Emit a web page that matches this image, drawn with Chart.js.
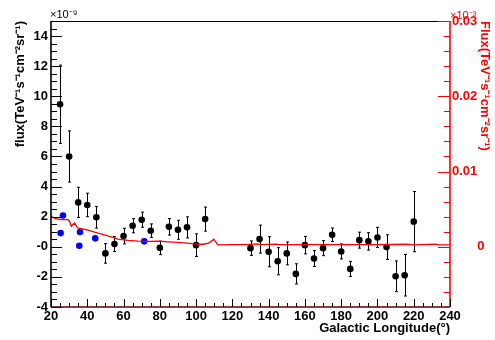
<!DOCTYPE html>
<html>
<head>
<meta charset="utf-8">
<script src="https://cdn.jsdelivr.net/npm/chart.js@4.4.0/dist/chart.umd.min.js"></script>
<style>
  body { margin: 0; background: #fff; }
</style>
</head>
<body>
<canvas id="chart" width="495" height="340"></canvas>
<script>
// measured flux (x1e-9), with symmetric errors
const lonBlack = [25, 30, 35, 40, 45, 50, 55, 60, 65, 70, 75, 80, 85, 90, 95, 100, 105,
  130, 135, 140, 145, 150, 155, 160, 165, 170, 175, 180, 185, 190, 195, 200, 205, 210, 215, 220];
const fluxBlack = [9.47, 6.0, 2.95, 2.78, 1.96, -0.44, 0.18, 0.71, 1.4, 1.8, 1.07, -0.07, 1.33, 1.13, 1.29, 0.11, 1.84,
  -0.09, 0.51, -0.33, -0.96, -0.44, -1.8, 0.11, -0.78, -0.09, 0.8, -0.31, -1.47, 0.44, 0.36, 0.62, -0.02, -1.96, -1.89, 1.67];
const errBlack = [2.6, 1.7, 1.0, 0.78, 0.72, 0.65, 0.5, 0.52, 0.47, 0.5, 0.45, 0.45, 0.55, 0.63, 0.7, 0.75, 0.8,
  0.48, 0.93, 1.0, 0.9, 0.76, 0.67, 0.58, 0.53, 0.5, 0.45, 0.5, 0.5, 0.53, 0.58, 0.67, 0.82, 1.02, 1.38, 2.0];

// blue points (x1e-9)
const lonBlue = [25.3, 26.6, 35.6, 36, 44.4, 71.4];
const fluxBlue = [0.91, 2.08, 0.07, 0.98, 0.56, 0.36];

// red curve, right axis (x1e-3)
const lonModel = [20, 22, 25.7, 29.4, 30.2, 31.2, 33, 34.7, 40.4, 45.9, 51.4, 56.9, 62.4, 68, 74.6, 79, 85, 90, 95,
  100, 104, 107, 109.8, 112, 120, 128, 133.4, 136, 144, 146, 160, 180, 200, 216, 220, 231.7, 234, 240];
const fluxModel = [0.00404, 0.00378, 0.0036, 0.0036, 0.0034, 0.00272, 0.00316, 0.0025, 0.00222, 0.00182, 0.00146,
  0.00102, 0.00084, 0.00076, 0.00072, 0.00074, 0.00066, 0.00058, 0.00048, 0.00036, 0.00034, 0.0005, 0.00102,
  0.00026, 0.00028, 0.00028, 0.00038, 0.00028, 0.00036, 0.00028, 0.00028, 0.00028, 0.00028, 0.00034, 0.00026,
  0.00034, 0.00026, 0.00026];

const xTicks = [20, 40, 60, 80, 100, 120, 140, 160, 180, 200, 220, 240];
const leftTicks = [-4, -2, 0, 2, 4, 6, 8, 10, 12, 14];
const rightTicks = [0, 0.01, 0.02, 0.03];

const FONT = '"Liberation Sans", Arial, sans-serif';
Chart.defaults.font.family = FONT;

const axisDeco = {
  id: 'axisDeco',
  beforeDatasetsDraw(chart) {
    const { ctx, chartArea: a, scales: { x, y } } = chart;
    ctx.save();
    ctx.beginPath();
    ctx.rect(a.left, a.top, a.right - a.left, a.bottom - a.top);
    ctx.clip();
    ctx.strokeStyle = '#000';
    ctx.lineWidth = 1;
    lonBlack.forEach((lon, i) => {
      const px = Math.round(x.getPixelForValue(lon)) + 0.5;
      const y1 = y.getPixelForValue(fluxBlack[i] + errBlack[i]);
      const y2 = y.getPixelForValue(fluxBlack[i] - errBlack[i]);
      ctx.beginPath();
      ctx.moveTo(px, y1); ctx.lineTo(px, y2);
      ctx.moveTo(px - 1.5, y1); ctx.lineTo(px + 1.5, y1);
      ctx.moveTo(px - 1.5, y2); ctx.lineTo(px + 1.5, y2);
      ctx.stroke();
    });
    ctx.restore();
  },
  afterDatasetsDraw(chart) {
    const { ctx, chartArea: a, scales: { x, y, y2 } } = chart;
    ctx.save();
    // frame
    ctx.strokeStyle = '#000';
    ctx.lineWidth = 1;
    ctx.beginPath();
    ctx.moveTo(a.left, a.top + 0.5); ctx.lineTo(a.right, a.top + 0.5);
    ctx.stroke();
    ctx.lineWidth = 1.6;
    ctx.beginPath();
    ctx.moveTo(a.left, a.top); ctx.lineTo(a.left, a.bottom);
    ctx.stroke();
    ctx.strokeStyle = '#5a0000';
    ctx.beginPath();
    ctx.moveTo(a.left, a.bottom); ctx.lineTo(a.right, a.bottom);
    ctx.stroke();
    ctx.strokeStyle = '#ff0000';
    ctx.beginPath();
    ctx.moveTo(a.right, a.top); ctx.lineTo(a.right, a.bottom);
    ctx.stroke();
    // ticks
    ctx.lineWidth = 1;
    ctx.strokeStyle = '#000';
    ctx.beginPath();
    for (let k = 0; k <= 44; k++) {
      const v = 20 + k * 5;
      const px = Math.round(x.getPixelForValue(v)) + 0.5;
      const len = k % 4 === 0 ? 8 : 4;
      ctx.moveTo(px, a.bottom); ctx.lineTo(px, a.bottom - len);
    }
    for (let k = 0; k <= 38; k++) {
      const v = -4 + k * 0.5;
      const py = Math.round(y.getPixelForValue(v)) + 0.5;
      const len = k % 4 === 0 ? 11 : 6;
      ctx.moveTo(a.left, py); ctx.lineTo(a.left + len, py);
    }
    ctx.stroke();
    ctx.strokeStyle = '#ff0000';
    ctx.beginPath();
    for (let k = 0; k <= 19; k++) {
      const v = -0.008 + k * 0.002;
      const py = Math.round(y2.getPixelForValue(v)) + 0.5;
      const len = (k - 4) % 5 === 0 ? 12 : 6;
      ctx.moveTo(a.right, py); ctx.lineTo(a.right - len, py);
    }
    ctx.stroke();
    // exponents
    ctx.font = '11px ' + FONT;
    ctx.textBaseline = 'alphabetic';
    ctx.textAlign = 'left';
    ctx.fillStyle = '#000';
    ctx.fillText('×10⁻⁹', a.left - 1, 18);
    ctx.fillStyle = '#ff0000';
    ctx.fillText('×10⁻³', a.right, 19);
    ctx.restore();
  }
};

new Chart(document.getElementById('chart'), {
  type: 'scatter',
  data: {
    datasets: [
      {
        data: lonModel.map((v, i) => ({ x: v, y: fluxModel[i] })),
        yAxisID: 'y2',
        showLine: true,
        borderColor: '#ff0000',
        borderWidth: 1.3,
        pointRadius: 0,
        tension: 0
      },
      {
        data: lonBlue.map((v, i) => ({ x: v, y: fluxBlue[i] })),
        yAxisID: 'y',
        backgroundColor: '#0000ff',
        borderWidth: 0,
        pointRadius: 3.3
      },
      {
        data: lonBlack.map((v, i) => ({ x: v, y: fluxBlack[i] })),
        yAxisID: 'y',
        backgroundColor: '#000',
        borderWidth: 0,
        pointRadius: 3.3
      }
    ]
  },
  options: {
    responsive: false,
    animation: false,
    layout: { padding: { top: 21, left: 0, right: 0, bottom: 0 } },
    plugins: { legend: { display: false }, tooltip: { enabled: false } },
    scales: {
      x: {
        type: 'linear',
        min: 20, max: 240,
        afterBuildTicks: s => { s.ticks = xTicks.map(v => ({ value: v })); },
        afterFit: s => { s.height = 33; },
        grid: { display: false, drawTicks: false },
        border: { display: false },
        ticks: { color: '#000', padding: 2, maxRotation: 0, autoSkip: false, font: { size: 13, weight: 'bold' } },
        title: {
          display: true, text: 'Galactic Longitude(°)', align: 'end', color: '#000',
          padding: { top: 0, bottom: 4 }, font: { size: 13, weight: 'bold' }
        }
      },
      y: {
        position: 'left',
        min: -4, max: 15,
        afterBuildTicks: s => { s.ticks = leftTicks.map(v => ({ value: v })); },
        afterFit: s => { s.width = 51; },
        grid: { display: false, drawTicks: false },
        border: { display: false },
        ticks: {
          color: '#000', padding: 3, autoSkip: false, font: { size: 13, weight: 'bold' },
          callback: v => v === 0 ? '-0' : String(v)
        },
        title: {
          display: true, text: 'flux(TeV⁻¹s⁻¹cm⁻²sr⁻¹)', align: 'end', color: '#000',
          padding: { top: 13, bottom: 0 }, font: { size: 13, weight: 'bold' }
        }
      },
      y2: {
        position: 'right',
        min: -0.008, max: 0.03,
        afterBuildTicks: s => { s.ticks = rightTicks.map(v => ({ value: v })); },
        afterFit: s => { s.width = 45; },
        grid: { display: false, drawTicks: false },
        border: { display: false },
        ticks: {
          color: '#ff0000', padding: 2, autoSkip: false, font: { size: 13, weight: 'bold' },
          callback: v => v === 0 ? '       0' : v.toFixed(2)
        },
        title: {
          display: true, text: 'Flux(TeV⁻¹s⁻¹cm⁻²sr⁻¹)', align: 'end', color: '#ff0000',
          padding: { top: 3, bottom: 0 }, font: { size: 13, weight: 'bold' }
        }
      }
    }
  },
  plugins: [axisDeco]
});
</script>
</body>
</html>
